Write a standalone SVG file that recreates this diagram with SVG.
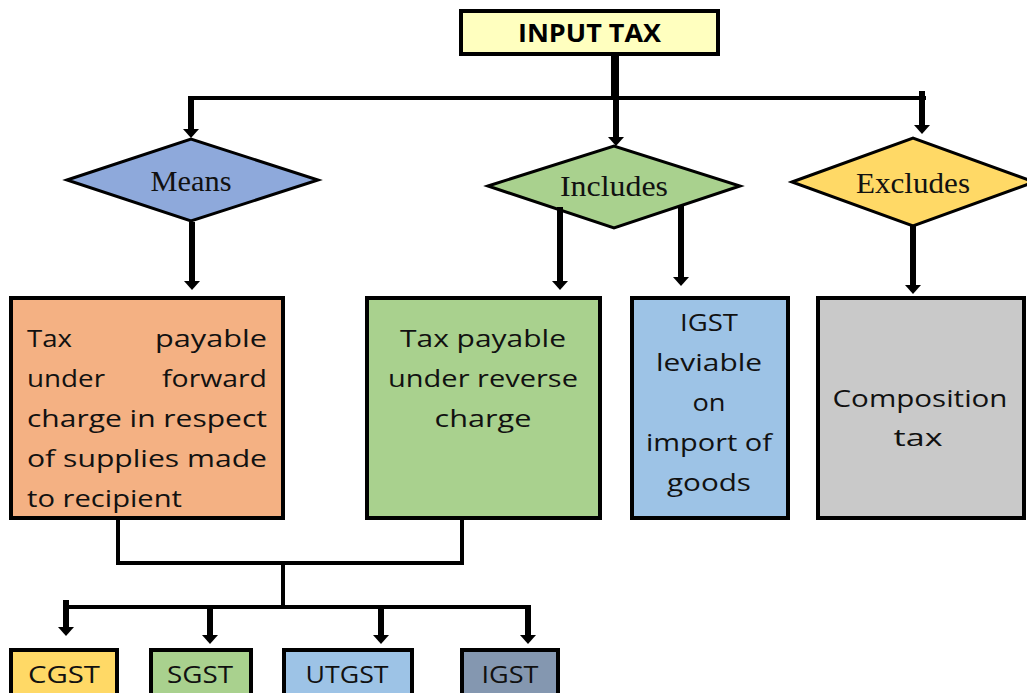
<svg xmlns="http://www.w3.org/2000/svg" width="1027" height="693" viewBox="0 0 1027 693">
  <defs>
    <style>
      .box { stroke: #000; stroke-width: 4; }
      .dia { stroke: #000; stroke-width: 3; }
      .t { font-family: "Open Sans", "Liberation Sans", sans-serif; font-size: 24px; fill: #111; }
      .c { text-anchor: middle; }
      .s { font-family: "Liberation Serif", "DejaVu Serif", serif; font-size: 29px; fill: #111; text-anchor: middle; }
      .b { font-family: "Open Sans", "Liberation Sans", sans-serif; font-size: 25px; font-weight: bold; fill: #000; }
      .ln { fill: none; stroke: #000; stroke-width: 4; }
      .ar { fill: none; stroke: #000; stroke-width: 6; marker-end: url(#ah); }
    </style>
    <marker id="ah" markerUnits="userSpaceOnUse" viewBox="0 0 9 16" markerWidth="9" markerHeight="16" refX="0" refY="8" orient="auto">
      <path d="M0,0 L9,8 L0,16 Z" fill="#000"/>
    </marker>
  </defs>

  <rect width="1027" height="693" fill="#fff"/>

  <g id="input-tax">
    <rect class="box" x="461" y="11" width="257" height="43" fill="#FFFFBF"/>
    <text class="b" x="518" y="42" textLength="143" lengthAdjust="spacingAndGlyphs">INPUT TAX</text>
  </g>

  <g id="means">
    <polygon class="dia" points="67,180 191,139 318,180 191,221" fill="#8EA9DB"/>
    <text class="s" x="191" y="191" textLength="81" lengthAdjust="spacingAndGlyphs">Means</text>
  </g>

  <g id="includes">
    <polygon class="dia" points="488,186 614,146 740,186 614,228" fill="#A9D18E"/>
    <text class="s" x="614" y="196" textLength="108" lengthAdjust="spacingAndGlyphs">Includes</text>
  </g>

  <g id="excludes">
    <polygon class="dia" points="792,182 913,138 1034,182 913,226" fill="#FFD966"/>
    <text class="s" x="913" y="193" textLength="114" lengthAdjust="spacingAndGlyphs">Excludes</text>
  </g>

  <g id="forward-charge">
    <rect class="box" x="11" y="298" width="272" height="220" fill="#F4B183"/>
    <text class="t" x="27" y="347" textLength="45" lengthAdjust="spacingAndGlyphs">Tax</text>
    <text class="t" x="155" y="347" textLength="112" lengthAdjust="spacingAndGlyphs">payable</text>
    <text class="t" x="27" y="387" textLength="78" lengthAdjust="spacingAndGlyphs">under</text>
    <text class="t" x="162" y="387" textLength="105" lengthAdjust="spacingAndGlyphs">forward</text>
    <text class="t" x="27" y="427" textLength="240" lengthAdjust="spacingAndGlyphs">charge in respect</text>
    <text class="t" x="27" y="467" textLength="240" lengthAdjust="spacingAndGlyphs">of supplies made</text>
    <text class="t" x="27" y="507" textLength="155" lengthAdjust="spacingAndGlyphs">to recipient</text>
  </g>

  <g id="reverse-charge">
    <rect class="box" x="367" y="298" width="233" height="220" fill="#A9D18E"/>
    <text class="t c" x="483" y="347" textLength="166" lengthAdjust="spacingAndGlyphs">Tax payable</text>
    <text class="t c" x="483" y="387" textLength="190" lengthAdjust="spacingAndGlyphs">under reverse</text>
    <text class="t c" x="483" y="427" textLength="97" lengthAdjust="spacingAndGlyphs">charge</text>
  </g>

  <g id="igst-import">
    <rect class="box" x="632" y="298" width="156" height="220" fill="#9DC3E6"/>
    <text class="t c" x="709" y="331" textLength="58" lengthAdjust="spacingAndGlyphs">IGST</text>
    <text class="t c" x="709" y="371" textLength="106" lengthAdjust="spacingAndGlyphs">leviable</text>
    <text class="t c" x="709" y="411" textLength="33" lengthAdjust="spacingAndGlyphs">on</text>
    <text class="t c" x="709" y="451" textLength="126" lengthAdjust="spacingAndGlyphs">import of</text>
    <text class="t c" x="709" y="491" textLength="84" lengthAdjust="spacingAndGlyphs">goods</text>
  </g>

  <g id="composition">
    <rect class="box" x="818" y="298" width="206" height="220" fill="#C9C9C9"/>
    <text class="t c" x="920" y="407" textLength="175" lengthAdjust="spacingAndGlyphs">Composition</text>
    <text class="t c" x="918" y="446" textLength="49" lengthAdjust="spacingAndGlyphs">tax</text>
  </g>

  <g id="cgst">
    <rect class="box" x="11" y="650" width="106" height="60" fill="#FFD966"/>
    <text class="t c" x="64" y="683" textLength="72" lengthAdjust="spacingAndGlyphs">CGST</text>
  </g>
  <g id="sgst">
    <rect class="box" x="151" y="650" width="100" height="60" fill="#A9D18E"/>
    <text class="t c" x="200" y="683" textLength="66" lengthAdjust="spacingAndGlyphs">SGST</text>
  </g>
  <g id="utgst">
    <rect class="box" x="284" y="650" width="128" height="60" fill="#9DC3E6"/>
    <text class="t c" x="347" y="683" textLength="83" lengthAdjust="spacingAndGlyphs">UTGST</text>
  </g>
  <g id="igst">
    <rect class="box" x="462" y="650" width="96" height="60" fill="#8497B0"/>
    <text class="t c" x="510" y="683" textLength="57" lengthAdjust="spacingAndGlyphs">IGST</text>
  </g>

  <g id="connectors">
    <line x1="615" y1="54" x2="615" y2="100" stroke="#000" stroke-width="8"/>
    <path class="ln" d="M191,98 H926"/>
    <line class="ar" x1="191" y1="96" x2="191" y2="129"/>
    <line class="ar" x1="616" y1="98" x2="616" y2="137"/>
    <line class="ar" x1="922" y1="91" x2="922" y2="125"/>

    <line class="ar" x1="192" y1="222" x2="192" y2="281"/>
    <line class="ar" x1="560" y1="207" x2="560" y2="281"/>
    <line class="ar" x1="681" y1="205" x2="681" y2="277"/>
    <line class="ar" x1="913" y1="225" x2="913" y2="285"/>

    <path class="ln" d="M118,520 V563 H462 V520"/>
    <path class="ln" d="M283,563 V607"/>
    <path class="ln" d="M64,607 H530"/>
    <line class="ar" x1="66" y1="600" x2="66" y2="627"/>
    <line class="ar" x1="210" y1="607" x2="210" y2="635"/>
    <line class="ar" x1="381" y1="607" x2="381" y2="635"/>
    <line class="ar" x1="528" y1="605" x2="528" y2="635"/>
  </g>
</svg>
